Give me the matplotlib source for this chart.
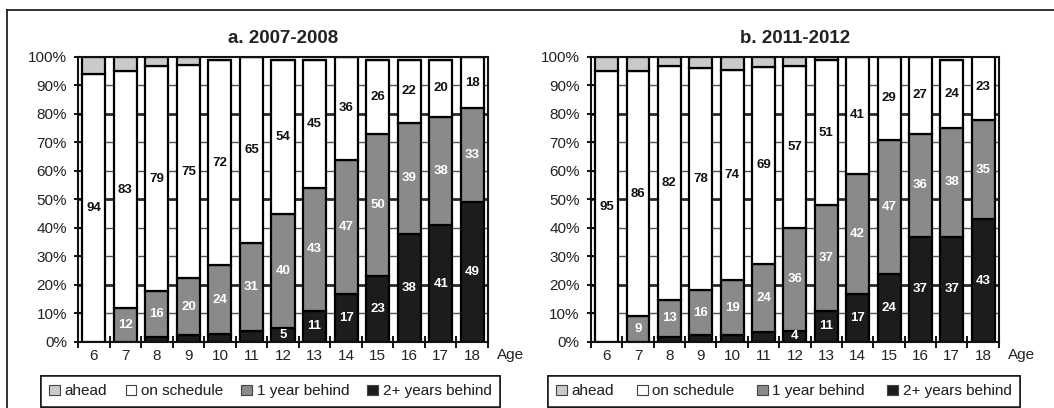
import numpy as np
import matplotlib.pyplot as plt
from matplotlib.lines import Line2D
from matplotlib.patches import Patch

plt.rcParams['font.family'] = ['Liberation Sans', 'DejaVu Sans']

ages = ['6', '7', '8', '9', '10', '11', '12', '13', '14', '15', '16', '17', '18']

# a. 2007-2008 (percent of pupils by age)
a_two_plus = [0, 0, 1.8, 2.3, 2.9, 3.9, 5, 11, 17, 23, 38, 41, 49]
a_one_year = [0, 12, 16, 20, 24, 31, 40, 43, 47, 50, 39, 38, 33]
a_on_sched = [94, 83, 79, 75, 72, 65, 54, 45, 36, 26, 22, 20, 18]
a_ahead = [6, 5, 3.2, 2.7, 0, 0, 0, 0, 0, 0, 0, 0, 0]

# b. 2011-2012
b_two_plus = [0, 0, 1.8, 2.3, 2.6, 3.5, 4, 11, 17, 24, 37, 37, 43]
b_one_year = [0, 9, 13, 16, 19, 24, 36, 37, 42, 47, 36, 38, 35]
b_on_sched = [95, 86, 82, 78, 74, 69, 57, 51, 41, 29, 27, 24, 23]
b_ahead = [5, 5, 3.2, 3.7, 4.4, 3.5, 3, 1, 0, 0, 0, 0, 0]

categories = ['ahead', 'on schedule', '1 year behind', '2+ years behind']
colors = ['#cacaca', '#ffffff', '#8a8a8a', '#1c1c1c']


def draw_panel(ax, title, two_plus, one_year, on_sched, ahead):
    x = np.arange(len(ages))
    w = 0.73
    two_plus = np.array(two_plus, float)
    one_year = np.array(one_year, float)
    on_sched = np.array(on_sched, float)
    ahead = np.array(ahead, float)

    for y in range(10, 100, 10):
        heavy = y in (20, 50, 80)
        ax.axhline(y, color='#2a2a2a' if heavy else '#555555',
                   lw=2.0 if heavy else 1.0, zorder=1)

    kw = dict(width=w, edgecolor='black', linewidth=1.6, zorder=3)
    ax.bar(x, two_plus, color=colors[3], **kw)
    ax.bar(x, one_year, bottom=two_plus, color=colors[2], **kw)
    ax.bar(x, on_sched, bottom=two_plus + one_year, color=colors[1], **kw)
    ax.bar(x, ahead, bottom=two_plus + one_year + on_sched, color=colors[0], **kw)

    lab = dict(ha='center', va='center', fontsize=9.5, fontweight='bold', zorder=4)
    for i in range(len(ages)):
        if two_plus[i] >= 4:
            ax.text(x[i], two_plus[i] / 2, f'{two_plus[i]:.0f}', color='white', **lab)
        if one_year[i] > 0:
            ax.text(x[i], two_plus[i] + one_year[i] / 2, f'{one_year[i]:.0f}',
                    color='white', **lab)
        ax.text(x[i], two_plus[i] + one_year[i] + on_sched[i] / 2,
                f'{on_sched[i]:.0f}', color='#111', **lab)

    ax.set_xlim(-0.5, len(ages) - 0.5)
    ax.set_ylim(0, 100)
    ax.set_yticks(range(0, 101, 10))
    ax.set_yticklabels([f'{v}%' for v in range(0, 101, 10)], fontsize=11, color='#222')
    ax.set_xticks(x)
    ax.set_xticklabels(ages, fontsize=11, color='#222')
    ax.set_xticks(np.arange(-0.5, len(ages)), minor=True)
    ax.tick_params(axis='x', which='major', length=0, pad=5)
    ax.tick_params(axis='x', which='minor', direction='inout', length=8, width=1.3)
    ax.tick_params(axis='y', direction='inout', length=6, width=1.3, pad=5)
    for s in ax.spines.values():
        s.set_linewidth(1.5)
        s.set_color('#111')
        s.set_zorder(5)
    ax.set_title(title, fontsize=13.5, fontweight='bold', pad=10, color='#222')
    ax.text(1.022, -0.046, 'Age', transform=ax.transAxes, ha='left', va='center',
            fontsize=11, color='#222')


fig = plt.figure(figsize=(10.54, 4.08), dpi=100)
ax1 = fig.add_axes([0.074, 0.1618, 0.389, 0.6985])
ax2 = fig.add_axes([0.5607, 0.1618, 0.387, 0.6985])

draw_panel(ax1, 'a. 2007-2008', a_two_plus, a_one_year, a_on_sched, a_ahead)
draw_panel(ax2, 'b. 2011-2012', b_two_plus, b_one_year, b_on_sched, b_ahead)

handles = [Patch(facecolor=c, edgecolor='#444', linewidth=0.8) for c in colors]
for x0, x1 in [(0.0389, 0.4744), (0.52, 0.9677)]:
    leg = fig.legend(handles, categories, loc='lower left', ncol=4,
                     bbox_to_anchor=(x0, 0.003, x1 - x0, 0.08), mode='expand',
                     fontsize=11, frameon=True, fancybox=False, edgecolor='black',
                     handlelength=0.7, handleheight=0.7, handletextpad=0.3,
                     borderpad=0.55, borderaxespad=0)
    leg.get_frame().set_linewidth(1.2)
    for t in leg.get_texts():
        t.set_color('#222')
    fig.add_artist(leg)

# outer frame: top edge and left edge
fig.add_artist(Line2D([0.0066, 1.0], [0.9755, 0.9755], transform=fig.transFigure,
                      color='#222', lw=1.3))
fig.add_artist(Line2D([0.0066, 0.0066], [0.0, 0.9755], transform=fig.transFigure,
                      color='#222', lw=1.3))

fig.savefig('out.png', dpi=100)
